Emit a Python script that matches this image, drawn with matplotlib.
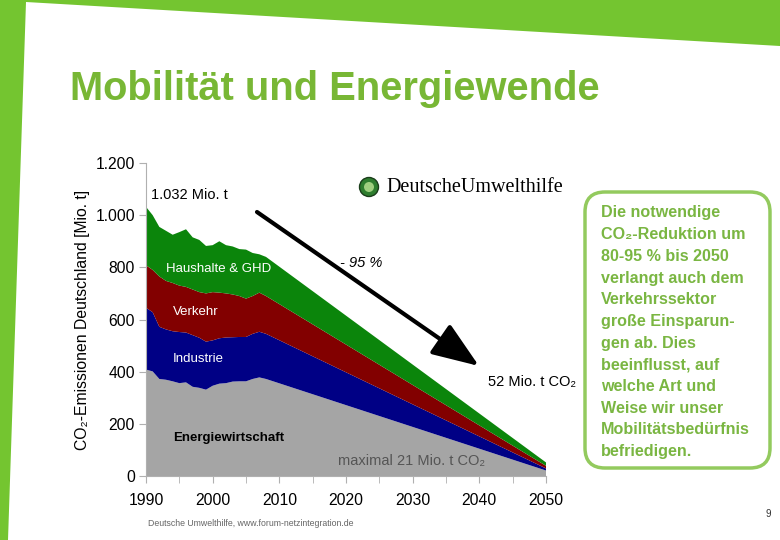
import matplotlib
matplotlib.use("Agg")
import matplotlib.pyplot as plt
from matplotlib.patches import Polygon, FancyBboxPatch, Circle, FancyArrowPatch
from matplotlib.ticker import FuncFormatter, MultipleLocator

plt.rcParams['font.family'] = ['Liberation Sans', 'DejaVu Sans']

# ---- data (Mio. t CO2) ----
years = [1990, 1991, 1992, 1993, 1994, 1995, 1996, 1997, 1998, 1999,
         2000, 2001, 2002, 2003, 2004, 2005, 2006, 2007, 2008, 2050]
energiewirtschaft = [408, 401, 372, 369, 363, 356, 359, 342, 338, 331,
                     346, 354, 356, 362, 363, 363, 372, 378, 372, 21]
industrie = [237, 227, 200, 193, 192, 196, 191, 198, 192, 184,
             174, 174, 175, 170, 170, 170, 173, 175, 173, 8]
verkehr = [163, 162, 193, 186, 185, 178, 175, 175, 175, 185,
           185, 175, 169, 164, 157, 147, 145, 150, 145, 10]
haushalte = [224, 210, 190, 192, 185, 205, 221, 200, 200, 182,
             180, 197, 185, 184, 180, 188, 165, 147, 150, 13]
series_labels = ["Energiewirtschaft", "Industrie", "Verkehr", "Haushalte & GHD"]
series_colors = ["#a5a5a5", "#000085", "#820000", "#0b850b"]
yticks = [0, 200, 400, 600, 800, 1000, 1200]
xticks = [1990, 2000, 2010, 2020, 2030, 2040, 2050]

W, H = 780, 540
fig = plt.figure(figsize=(7.8, 5.4), dpi=100)

# background slide elements (pixel coordinates)
bg = fig.add_axes([0, 0, 1, 1], zorder=0)
bg.set_xlim(0, W); bg.set_ylim(H, 0); bg.axis('off')
band = '#74c530'
bg.add_patch(Polygon([(0, 0), (W, 0), (W, 46), (26, 2), (8, H), (0, H)],
                     closed=True, facecolor=band, edgecolor='none'))

# chart axes
x0, x1 = 146, 546
y0, y1 = 476, 163
ax = fig.add_axes([x0 / W, 1 - y0 / H, (x1 - x0) / W, (y0 - y1) / H], zorder=1)
ax.patch.set_alpha(0)
ax.stackplot(years, energiewirtschaft, industrie, verkehr, haushalte,
             colors=series_colors, labels=series_labels, linewidth=0)
ax.set_xlim(1990, 2050)
ax.set_ylim(0, 1200)
ax.set_yticks(yticks)
ax.set_xticks(xticks)
ax.xaxis.set_minor_locator(MultipleLocator(5))
ax.yaxis.set_major_formatter(FuncFormatter(lambda v, p: f"{int(v):,}".replace(",", ".")))
for s in ['top', 'right']:
    ax.spines[s].set_visible(False)
for s in ['left', 'bottom']:
    ax.spines[s].set_color('#b0b0b0')
    ax.spines[s].set_linewidth(0.8)
ax.tick_params(axis='y', direction='out', length=5, color='#b0b0b0', labelsize=11.3, pad=3)
ax.tick_params(axis='x', which='both', direction='out', length=5, color='#b0b0b0',
               labelsize=11.3, pad=7)
ax.set_ylabel("CO₂-Emissionen Deutschland [Mio. t]", fontsize=11.3, labelpad=4)

# overlay
ov = fig.add_axes([0, 0, 1, 1], zorder=2)
ov.set_xlim(0, W); ov.set_ylim(H, 0); ov.axis('off')
ov.patch.set_alpha(0)

title_green = '#78b735'
ov.text(70, 89, "Mobilität und Energiewende", fontsize=28.7, fontweight='bold',
        color=title_green, va='center', ha='left')

ov.text(151, 195, "1.032 Mio. t", fontsize=10.5, va='center', ha='left')
ov.text(166, 269, "Haushalte & GHD", fontsize=9.5, color='white', va='center')
ov.text(173, 312, "Verkehr", fontsize=9.5, color='white', va='center')
ov.text(173, 359, "Industrie", fontsize=9.5, color='white', va='center')
ov.text(173, 438, "Energiewirtschaft", fontsize=9.5, fontweight='bold', va='center')
ov.text(338, 461, "maximal 21 Mio. t CO₂", fontsize=10.5, color='#555555', va='center')
ov.text(488, 382, "52 Mio. t CO₂", fontsize=10.5, va='center')
ov.text(340, 263, "- 95 %", fontsize=10.5, style='italic', va='center')

ov.add_patch(FancyArrowPatch((257, 212), (479, 366),
                             arrowstyle='-|>,head_length=29,head_width=11',
                             mutation_scale=1, linewidth=3, color='black',
                             shrinkA=0, shrinkB=0))

# logo
ov.add_patch(Circle((369, 187), 9.5, facecolor='#2e7d2e', edgecolor='#1a3d1a', linewidth=1))
ov.add_patch(Circle((369, 187), 5, facecolor='#9fcf7f', edgecolor='none'))
ov.text(386, 187, "DeutscheUmwelthilfe", fontsize=14.5, family='Liberation Serif',
        va='center', ha='left')

# text box
ov.add_patch(FancyBboxPatch((585, 192), 185, 276, boxstyle="round,pad=0,rounding_size=20",
                            facecolor='white', edgecolor='#93ca5e', linewidth=2.5))
box_lines = ["Die notwendige", "CO₂-Reduktion um", "80-95 % bis 2050", "verlangt auch dem",
             "Verkehrssektor", "große Einsparun-", "gen ab. Dies", "beeinflusst, auf",
             "welche Art und", "Weise wir unser", "Mobilitätsbedürfnis", "befriedigen."]
for i, line in enumerate(box_lines):
    ov.text(601, 213 + i * 21.7, line, fontsize=11.6, fontweight='bold', color='#7ab642',
            va='center', ha='left')

ov.text(148, 523, "Deutsche Umwelthilfe, www.forum-netzintegration.de", fontsize=6.3,
        color='#666666', va='center', ha='left')
ov.text(771, 514, "9", fontsize=7, color='#333333', va='center', ha='right')

fig.savefig("out.png", dpi=100)
